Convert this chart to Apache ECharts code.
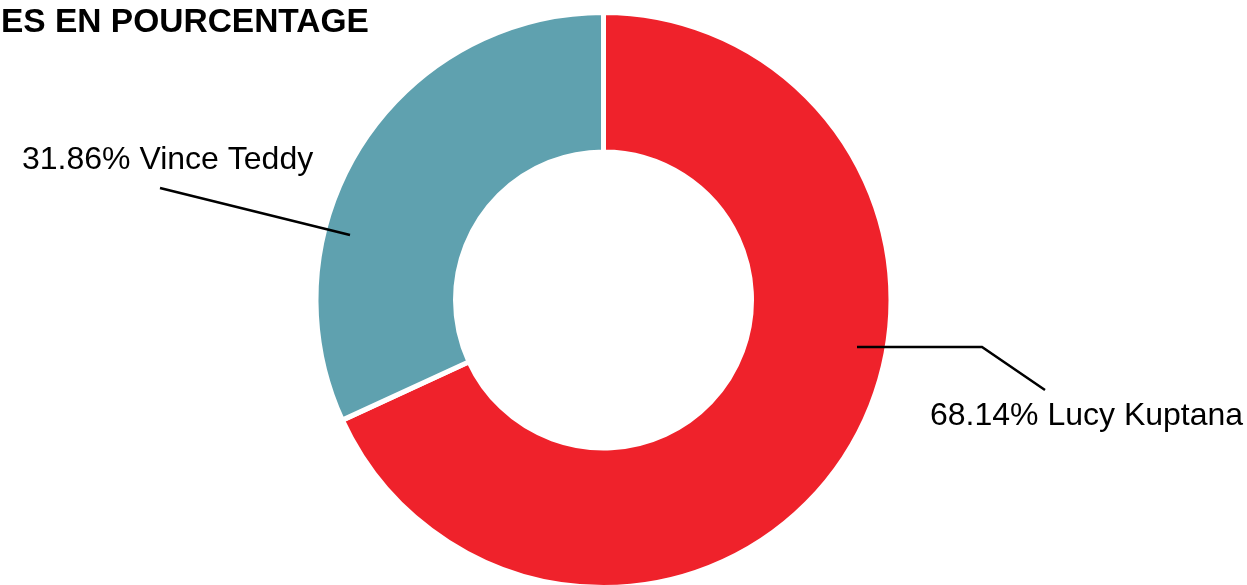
<!DOCTYPE html>
<html>
<head>
<meta charset="utf-8">
<script src="https://cdn.jsdelivr.net/npm/echarts@6/dist/echarts.min.js"></script>
<style>
html,body{margin:0;padding:0;background:#fff;}
#chart{width:1247px;height:585px;}
</style>
</head>
<body>
<div id="chart"></div>
<script>
// ---- data ----
var titleText = 'ES EN POURCENTAGE';
var candidates = ['Lucy Kuptana', 'Vince Teddy'];
var shares = [68.14, 31.86];
var colors = ['#EF222B', '#5FA1AF'];

// ---- label placement (layout only, relative to pie centre) ----
var CX = 603.5, CY = 300;
var labelPlacement = [
  { line: [[253.5, 47], [378.5, 47], [441.5, 90]], x: 326.5, y: 116, align: 'left' },
  { line: [[-253.5, -65], [-443.5, -112]], x: -581.5, y: -140, align: 'left' }
];

function pieData(withColor) {
  return candidates.map(function (n, i) {
    return { name: n, value: shares[i], itemStyle: { color: withColor ? colors[i] : 'rgba(0,0,0,0)' } };
  });
}

var chart = echarts.init(document.getElementById('chart'));
chart.setOption({
  animation: false,
  backgroundColor: '#fff',
  title: {
    text: titleText,
    left: 1,
    top: 6,
    padding: 0,
    textStyle: { fontFamily: 'Liberation Sans, Arial, sans-serif', fontWeight: 'bold', fontSize: 33.5, color: '#000' }
  },
  series: [{
    type: 'pie',
    z: 2,
    center: [CX, CY],
    radius: [148, 287.5],
    startAngle: 90,
    clockwise: true,
    silent: true,
    data: pieData(true),
    itemStyle: { borderColor: '#fff', borderWidth: 5 },
    emphasis: { disabled: true },
    label: { show: false },
    labelLine: { show: false }
  }, {
    type: 'pie',
    z: 5,
    center: [CX, CY],
    radius: [148, 287.5],
    startAngle: 90,
    clockwise: true,
    silent: true,
    avoidLabelOverlap: false,
    data: pieData(false),
    itemStyle: { borderWidth: 0 },
    emphasis: { disabled: true },
    label: {
      show: true,
      position: 'outside',
      formatter: function (p) { return p.value.toFixed(2) + '% ' + p.name; },
      fontFamily: 'Liberation Sans, Arial, sans-serif',
      fontSize: 32,
      color: '#000'
    },
    labelLine: { show: true, showAbove: true, lineStyle: { color: '#000', width: 2.5 } },
    labelLayout: function (params) {
      var pl = labelPlacement[params.dataIndex];
      return {
        x: CX + pl.x,
        y: CY + pl.y,
        align: pl.align,
        verticalAlign: 'middle',
        labelLinePoints: pl.line.map(function (p) { return [CX + p[0], CY + p[1]]; })
      };
    }
  }]
});
</script>
</body>
</html>
